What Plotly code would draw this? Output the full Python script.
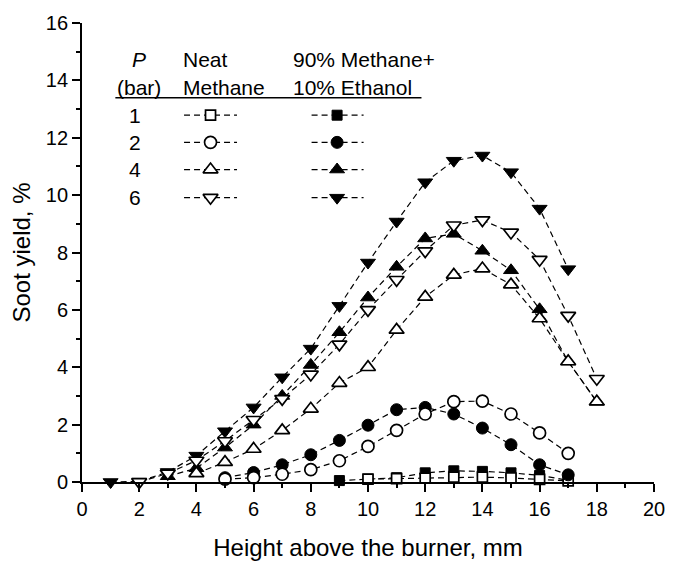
import plotly.graph_objects as go

# ---------------- data ----------------
neat_p1_x = [10, 11, 12, 13, 14, 15, 16, 17]
neat_p1_y = [0.10, 0.12, 0.13, 0.17, 0.17, 0.14, 0.09, 0.04]
eth_p1_x = [9, 10, 11, 12, 13, 14, 15, 16, 17]
eth_p1_y = [0.05, 0.10, 0.15, 0.32, 0.39, 0.37, 0.32, 0.23, 0.06]

neat_p2_x = [5, 6, 7, 8, 9, 10, 11, 12, 13, 14, 15, 16, 17]
neat_p2_y = [0.10, 0.15, 0.27, 0.43, 0.74, 1.24, 1.80, 2.37, 2.80, 2.82, 2.37, 1.71, 1.00]
eth_p2_x = [5, 6, 7, 8, 9, 10, 11, 12, 13, 14, 15, 16, 17]
eth_p2_y = [0.15, 0.33, 0.60, 0.95, 1.45, 1.98, 2.52, 2.60, 2.37, 1.88, 1.30, 0.60, 0.25]

neat_p4_x = [4, 5, 6, 7, 8, 9, 10, 11, 12, 13, 14, 15, 16, 17, 18]
neat_p4_y = [0.30, 0.69, 1.15, 1.80, 2.55, 3.45, 4.00, 5.30, 6.45, 7.22, 7.44, 6.88, 5.70, 4.20, 2.80]
eth_p4_x = [3, 4, 5, 6, 7, 8, 9, 10, 11, 12, 13, 14, 15, 16, 17, 18]
eth_p4_y = [0.20, 0.48, 1.20, 2.00, 3.00, 4.08, 5.22, 6.43, 7.50, 8.49, 8.65, 8.06, 7.38, 6.02, 4.20, 2.80]

neat_p6_x = [2, 3, 4, 5, 6, 7, 8, 9, 10, 11, 12, 13, 14, 15, 16, 17, 18]
neat_p6_y = [0.00, 0.30, 0.75, 1.43, 2.17, 2.90, 3.75, 4.80, 6.00, 7.05, 8.05, 8.95, 9.13, 8.70, 7.75, 5.80, 3.60]
eth_p6_x = [1, 2, 3, 4, 5, 6, 7, 8, 9, 10, 11, 12, 13, 14, 15, 16, 17]
eth_p6_y = [0.00, 0.02, 0.35, 0.92, 1.77, 2.60, 3.65, 4.65, 6.14, 7.65, 9.08, 10.45, 11.20, 11.38, 10.80, 9.53, 7.42]

pressures = ["1", "2", "4", "6"]
col_neat = ["Neat", "Methane"]
col_eth = ["90% Methane+", "10% Ethanol"]

FONT = "Liberation Sans, Arial, sans-serif"
FS = 20        # tick labels / legend text
FS_TITLE = 24  # axis titles
DASH = "6px,4px"

symbols = {"1": "square", "2": "circle", "4": "triangle-up", "6": "triangle-down"}
sizes = {"1": 10, "2": 12, "4": 13, "6": 13}

series = [
    ("1", "eth", eth_p1_x, eth_p1_y),
    ("1", "neat", neat_p1_x, neat_p1_y),
    ("2", "eth", eth_p2_x, eth_p2_y),
    ("2", "neat", neat_p2_x, neat_p2_y),
    ("4", "eth", eth_p4_x, eth_p4_y),
    ("4", "neat", neat_p4_x, neat_p4_y),
    ("6", "eth", eth_p6_x, eth_p6_y),
    ("6", "neat", neat_p6_x, neat_p6_y),
]

def marker_style(p, kind):
    if kind == "eth":
        return dict(symbol=symbols[p], size=sizes[p], color="black",
                    line=dict(color="black", width=1))
    return dict(symbol=symbols[p], size=sizes[p], color="white",
                line=dict(color="black", width=1.7))

fig = go.Figure()
for p, kind, xs, ys in series:
    fig.add_trace(go.Scatter(
        x=xs, y=ys, mode="lines+markers",
        line=dict(color="black", width=1.2, dash=DASH),
        marker=marker_style(p, kind), showlegend=False, cliponaxis=False))

# --------- hand-built legend table on a hidden pixel-space axis pair ---------
L, R, T, B = 82, 665, 22, 495
row_y = [117, 145, 173, 202]
neat_line = (186, 213, 240)
eth_line = (316, 342, 369)
for i, p in enumerate(pressures):
    for kind, (x0, xm, x1) in (("neat", neat_line), ("eth", eth_line)):
        fig.add_trace(go.Scatter(
            x=[x0, x1], y=[row_y[i], row_y[i]], mode="lines",
            line=dict(color="black", width=1.2, dash=DASH),
            xaxis="x3", yaxis="y3", showlegend=False, hoverinfo="skip"))
        fig.add_trace(go.Scatter(
            x=[xm], y=[row_y[i]], mode="markers",
            marker=marker_style(p, kind),
            xaxis="x3", yaxis="y3", showlegend=False, hoverinfo="skip"))
    fig.add_annotation(x=136, y=row_y[i], xref="x3", yref="y3", text=p,
                       showarrow=False, xanchor="center", yanchor="middle",
                       font=dict(family=FONT, size=FS + 1, color="black"))

hdr = [
    (140, 60, "<i>P</i>", "center"),
    (140, 88, "(bar)", "center"),
    (183, 60, col_neat[0], "left"),
    (183, 88, col_neat[1], "left"),
    (295, 60, col_eth[0], "left"),
    (295, 88, col_eth[1], "left"),
]
for x, y, t, anc in hdr:
    fig.add_annotation(x=x, y=y, xref="x3", yref="y3", text=t, showarrow=False,
                       xanchor=anc, yanchor="middle",
                       font=dict(family=FONT, size=FS + 1, color="black"))
fig.add_shape(type="line", x0=116, x1=428, y0=99, y1=99, xref="x3", yref="y3",
              line=dict(color="black", width=1.6))

axis_common = dict(showgrid=False, zeroline=False, showline=True,
                   linecolor="black", linewidth=1.8, tickcolor="black",
                   tickwidth=1.5, mirror=False)

fig.update_layout(
    width=677, height=569,
    margin=dict(l=L, r=677 - R, t=T, b=569 - B, pad=0),
    paper_bgcolor="white", plot_bgcolor="white",
    font=dict(family=FONT, size=FS, color="black"),
    xaxis=dict(range=[0, 20], tick0=0, dtick=2, ticks="outside", ticklen=8,
               minor=dict(dtick=1, ticks="outside", ticklen=4, tickcolor="black", tickwidth=1.5),
               tickfont=dict(size=FS),
               title=dict(text="Height above the burner, mm", standoff=20,
                          font=dict(size=FS_TITLE)),
               **axis_common),
    yaxis=dict(range=[0, 16], tick0=0, dtick=2, ticks="outside", ticklen=8,
               minor=dict(dtick=1, ticks="outside", ticklen=4, tickcolor="black", tickwidth=1.5),
               tickfont=dict(size=FS),
               title=dict(text="Soot yield, %", standoff=8, font=dict(size=FS_TITLE)),
               **axis_common),
    xaxis2=dict(range=[0, 20], overlaying="x", anchor="y", side="top",
                tick0=0, dtick=2, ticks="inside", ticklen=8, showticklabels=False,
                minor=dict(dtick=1, ticks="inside", ticklen=4, tickcolor="black", tickwidth=1.5),
                **axis_common),
    yaxis2=dict(range=[0, 16], overlaying="y", anchor="x", side="right",
                tick0=0, dtick=2, ticks="inside", ticklen=8, showticklabels=False,
                minor=dict(dtick=1, ticks="inside", ticklen=4, tickcolor="black", tickwidth=1.5),
                **axis_common),
    xaxis3=dict(range=[L, R], overlaying="x", anchor="y3", visible=False, fixedrange=True),
    yaxis3=dict(range=[B, T], overlaying="y", anchor="x3", visible=False, fixedrange=True),
)

fig.write_html("out.html")
